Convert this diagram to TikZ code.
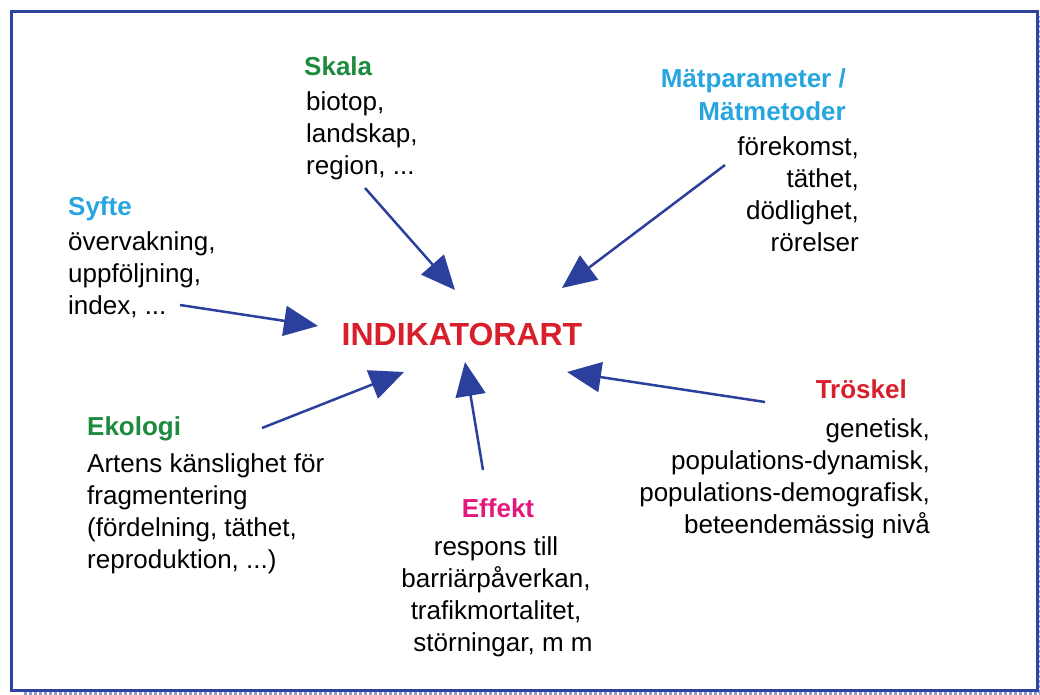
\documentclass[tikz,border=0pt]{standalone}
\usepackage{fontspec}
\setmainfont{Liberation Sans}
\usetikzlibrary{arrows.meta}
\definecolor{frameblue}{HTML}{2E44A0}
\definecolor{shadowblue}{HTML}{8E9CD0}
\definecolor{arrowblue}{HTML}{2B409C}
\definecolor{hgreen}{HTML}{1E8A3E}
\definecolor{hcyan}{HTML}{27A5DE}
\definecolor{hred}{HTML}{D8202C}
\definecolor{hmag}{HTML}{E2187E}
\tikzset{
  body/.style={inner sep=0pt, font=\fontsize{26}{32}\selectfont, text=black},
  head/.style={inner sep=0pt, font=\fontsize{26}{32}\selectfont\bfseries},
  title/.style={inner sep=0pt, font=\fontsize{32}{38}\selectfont\bfseries, text=hred},
  conn/.style={draw=arrowblue, line width=2.5pt, -{Triangle[length=34pt,width=30pt,fill=arrowblue]}},
}
\begin{document}
\begin{tikzpicture}[x=1pt,y=-1pt]
\useasboundingbox (0,0) rectangle (1040,695);
% frame with shadow
\draw[shadowblue, line width=3pt, dotted] (24,693) -- (1039,693) -- (1039,16);
\draw[frameblue, line width=3pt] (11,12) rectangle (1037,690);

% title
\node[title, anchor=base] (ind) at (462,345) {INDIKATORART};

% Skala
\node[head, text=hgreen, anchor=base west] (skh) at (304,76) {Skala};
\node[body, anchor=base west] (skb) at (306,111) {\begin{tabular}[t]{@{}l@{}}biotop,\\ landskap,\\ region, ...\end{tabular}};

% Matparameter
\node[head, text=hcyan, anchor=base east] (mph) at (846,88) {\begin{tabular}[t]{@{}r@{}}Mätparameter /\hspace{7pt}\\[1pt] Mätmetoder\end{tabular}};
\node[body, anchor=base east] (mpb) at (859,156) {\begin{tabular}[t]{@{}r@{}}förekomst,\\ täthet,\\ dödlighet,\\ rörelser\hspace{-7pt}\end{tabular}};

% Syfte
\node[head, text=hcyan, anchor=base west] (syh) at (68,215) {Syfte};
\node[body, anchor=base west] (syb) at (68,250) {\begin{tabular}[t]{@{}l@{}}övervakning,\\ uppföljning,\\ index, ...\end{tabular}};

% Ekologi
\node[head, text=hgreen, anchor=base west] (ekh) at (87,435) {Ekologi};
\node[body, anchor=base west] (ekb) at (87,472) {\begin{tabular}[t]{@{}l@{}}Artens känslighet för\\ fragmentering\\ (fördelning, täthet,\\ reproduktion, ...)\end{tabular}};

% Effekt
\node[head, text=hmag, anchor=base] (efh) at (498,517) {Effekt};
\node[body, anchor=base] (efb) at (496,555) {\begin{tabular}[t]{@{}c@{}}respons till\\ barriärpåverkan,\\ trafikmortalitet,\\ \hspace{14pt}störningar, m m\end{tabular}};

% Troskel
\node[head, text=hred, anchor=base east] (trh) at (907,398) {Tröskel};
\node[body, anchor=base east] (trb) at (930,437) {\begin{tabular}[t]{@{}r@{}}genetisk,\hspace{6pt}\\ populations-dynamisk,\\ populations-demografisk,\\ beteendemässig nivå\hspace{6pt}\end{tabular}};

% arrow endpoints
\coordinate (skS) at (365,188);  \coordinate (skT) at (455,290);
\coordinate (mpS) at (725,165);  \coordinate (mpT) at (562,288);
\coordinate (syS) at (180,305);  \coordinate (syT) at (318,326);
\coordinate (ekS) at (262,428);  \coordinate (ekT) at (404,372);
\coordinate (efS) at (483,470);  \coordinate (efT) at (465,362);
\coordinate (trS) at (765,402);  \coordinate (trT) at (567,372);

\draw[conn] (skS) -- (skT);
\draw[conn] (mpS) -- (mpT);
\draw[conn] (syS) -- (syT);
\draw[conn] (ekS) -- (ekT);
\draw[conn] (efS) -- (efT);
\draw[conn] (trS) -- (trT);
\end{tikzpicture}
\end{document}
